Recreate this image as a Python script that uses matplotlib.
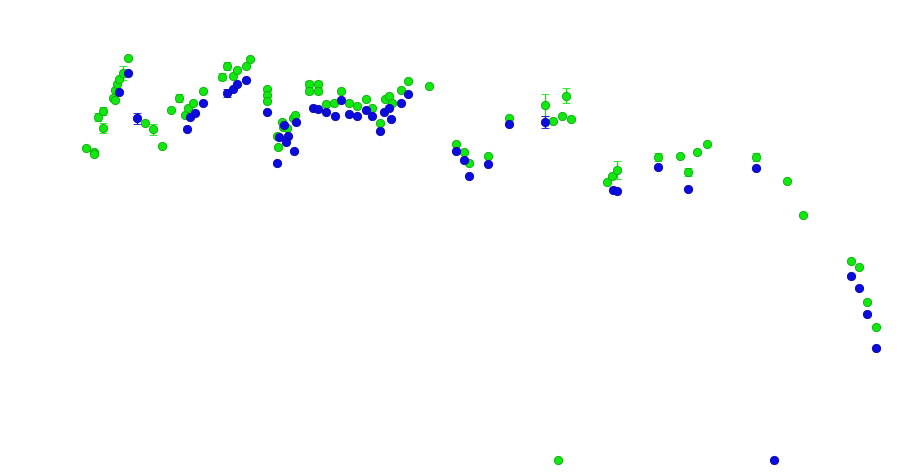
import matplotlib
matplotlib.use("Agg")
import matplotlib.pyplot as plt

# Values (x across, y downward)
green_x = [86, 94, 94, 98.3, 102.7, 102.7, 112.7, 115, 115, 116.7, 119.3, 122.7, 127.7,
           145, 152.7, 161.7, 170.7, 179, 185, 188.3, 193.3, 203.3,
           221.7, 226.7, 233.3, 237.3, 246, 250, 266.7, 266.7, 266.7,
           276.7, 277.7, 281.7, 283.3, 286.7, 293.3, 295, 309, 309, 317.7, 317.7,
           325.7, 334, 340.7, 349, 357.3, 365.7, 371.7, 380, 385, 389, 391.7, 400.7, 407.7, 429,
           455.7, 464.3, 469.3, 487.7, 508.7, 545, 552.7, 561.7, 565.7, 570.7, 557.7,
           606.7, 611.7, 616.7, 658.3, 680, 688.3, 696.7, 707.3, 756, 786.7, 802.7,
           850.7, 859.3, 866.7, 875.7]
green_y = [147.7, 151.7, 154, 116.7, 111, 127.7, 98.3, 100, 90, 84.3, 79.3, 73.3, 58.3,
           122.7, 129.3, 146, 110, 97.7, 115, 108.3, 103.3, 91,
           76.7, 65.7, 75.7, 70, 66, 59.3, 89, 95, 101,
           136, 146.7, 121.7, 126.7, 128.3, 118.3, 115, 84, 91, 84, 91,
           104.3, 103.3, 90.7, 102.7, 106, 99.3, 108.3, 122.7, 99.3, 95.7, 103.3, 90, 81, 86.5,
           144, 151.7, 163.3, 155.7, 117.7, 105, 121, 115.7, 96, 119, 460,
           181.7, 176, 170, 156.7, 155.7, 171.7, 152.3, 144, 156.7, 181.3, 215,
           260.7, 266.7, 301.7, 326.7]
green_err = [0, 0, 0, 4, 4, 5, 0, 0, 0, 0, 0, 7, 0,
             0, 5.5, 0, 0, 4, 0, 0, 0, 0,
             3.5, 4, 0, 0, 0, 0, 0, 0, 0,
             0, 0, 0, 0, 0, 0, 0, 3, 3, 3, 3,
             0, 0, 0, 0, 0, 0, 0, 0, 0, 0, 0, 0, 0, 0,
             0, 0, 0, 0, 0, 10.7, 0, 0, 7.5, 0, 0,
             0, 0, 9, 4, 0, 4, 0, 0, 4, 0, 0,
             0, 0, 0, 0]

blue_x = [119.3, 128.3, 136.7, 186.7, 190, 195, 203.3, 227.3, 233.3, 236.7, 246,
          266.7, 276.7, 279, 284.3, 287.7, 286, 294, 296,
          313.3, 318.3, 325.7, 335, 340.7, 349, 357.3, 365.7, 371.7, 380,
          384.3, 389, 391, 400.7, 407.7,
          455.7, 464.3, 468.7, 487.7, 508.7, 545,
          613.3, 616.7, 658.3, 688.3, 756, 774,
          850.7, 859, 866.7, 875.7]
blue_y = [91.7, 72.7, 118.3, 129, 116.7, 113.3, 103.3, 92.7, 89.3, 84.3, 80,
          111.7, 162.7, 136.7, 125, 136, 141.7, 151, 121.7,
          108.3, 109, 111.7, 115.7, 100, 114, 115.7, 110, 116, 131,
          111.7, 108.3, 119.3, 102.7, 94,
          150.7, 160, 176, 164, 124.3, 122.3,
          190, 190.7, 166.7, 189, 167.7, 460,
          275.7, 288.3, 314.3, 348.3]
blue_err = [0, 0, 5.5, 0, 0, 0, 0, 4, 0, 0, 0,
            0, 0, 0, 0, 0, 0, 0, 0,
            0, 0, 0, 0, 0, 0, 0, 0, 0, 0,
            0, 0, 0, 0, 0,
            0, 0, 0, 0, 0, 6,
            0, 0, 0, 0, 0, 0,
            0, 0, 0, 0]

green = "#10e810"
blue = "#0c0ce0"

fig = plt.figure(figsize=(9, 4.73), dpi=100)
ax = fig.add_axes([0, 0, 1, 1])

ax.errorbar(green_x, green_y, yerr=green_err, fmt="o", color=green,
            markersize=6, markeredgewidth=0.6, markeredgecolor="#0fa80f",
            elinewidth=1, capsize=3, ecolor=green)
ax.errorbar(blue_x, blue_y, yerr=blue_err, fmt="o", color=blue,
            markersize=6, markeredgewidth=0.6, markeredgecolor="#0808a8",
            elinewidth=1, capsize=3, ecolor=blue)

ax.set_xlim(0, 900)
ax.set_ylim(473, 0)
ax.axis("off")

plt.savefig("out.png", dpi=100)
plt.close()
